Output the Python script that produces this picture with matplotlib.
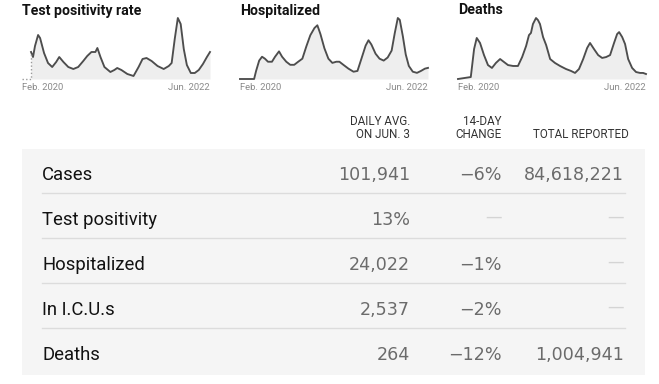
import matplotlib
matplotlib.use('Agg')
import matplotlib.pyplot as plt
import pandas as pd
from matplotlib.patches import Rectangle
from matplotlib.lines import Line2D

# ---------------- data ----------------
spark_titles = ['Test positivity rate', 'Hospitalized', 'Deaths']
range_start_label = 'Feb. 2020'
range_end_label = 'Jun. 2022'

tp_dates = ['2020-03-13', '2020-03-22', '2020-03-31', '2020-04-14', '2020-04-23', '2020-05-11',
            '2020-05-29', '2020-06-17', '2020-07-05', '2020-07-19', '2020-08-07', '2020-08-29',
            '2020-09-21', '2020-10-13', '2020-11-05', '2020-11-23', '2020-12-12', '2020-12-30',
            '2021-01-08', '2021-01-22', '2021-02-09', '2021-03-08', '2021-03-26', '2021-04-08',
            '2021-04-27', '2021-05-24', '2021-06-21', '2021-07-14', '2021-08-01', '2021-08-19',
            '2021-09-11', '2021-10-08', '2021-11-05', '2021-11-28', '2021-12-11', '2021-12-25',
            '2022-01-08', '2022-01-21', '2022-02-04', '2022-02-18', '2022-03-08', '2022-03-26',
            '2022-04-13', '2022-05-02', '2022-05-20', '2022-06-03']
tp_vals = [13.5, 11, 16.5, 22, 20.5, 13, 8, 6, 8.5, 11, 8.5, 6, 5, 6, 9, 11.5, 13.5, 13.5,
           15.5, 11, 6, 3.5, 4.5, 5.5, 4.5, 2.5, 1.5, 6, 10, 10.5, 9, 6.5, 5, 6.5, 8, 20,
           30.5, 27.5, 15, 7, 3, 3, 4.5, 7.5, 11, 13.5]

hosp_dates = ['2020-02-01', '2020-03-17', '2020-04-05', '2020-04-14', '2020-04-28', '2020-05-11',
              '2020-05-24', '2020-06-07', '2020-06-25', '2020-07-09', '2020-07-27', '2020-08-10',
              '2020-08-29', '2020-09-16', '2020-10-04', '2020-10-22', '2020-11-10', '2020-11-28',
              '2020-12-16', '2021-01-04', '2021-01-17', '2021-01-31', '2021-02-18', '2021-03-08',
              '2021-03-26', '2021-04-13', '2021-04-27', '2021-05-15', '2021-06-07', '2021-06-30',
              '2021-07-18', '2021-08-05', '2021-08-24', '2021-09-06', '2021-09-19', '2021-10-08',
              '2021-10-26', '2021-11-14', '2021-12-02', '2021-12-20', '2022-01-03', '2022-01-17',
              '2022-01-26', '2022-02-09', '2022-02-22', '2022-03-08', '2022-03-26', '2022-04-14',
              '2022-05-02', '2022-05-20', '2022-06-03']
hosp_vals = [0, 0, 0, 21, 48, 58, 53, 45, 45, 58, 72, 58, 45, 37, 37, 45, 53, 85, 114, 133,
             140, 117, 80, 53, 42, 45, 45, 37, 27, 19, 21, 53, 87, 101, 90, 66, 53, 48, 56, 74,
             119, 159, 154, 111, 64, 34, 19, 16, 21, 27, 29]

death_dates = ['2020-02-01', '2020-03-30', '2020-04-14', '2020-04-26', '2020-05-11', '2020-05-29',
               '2020-06-16', '2020-07-04', '2020-07-22', '2020-08-10', '2020-08-28', '2020-09-15',
               '2020-10-08', '2020-10-30', '2020-11-18', '2020-12-06', '2020-12-19', '2020-12-28',
               '2021-01-06', '2021-01-20', '2021-01-29', '2021-02-07', '2021-02-21', '2021-03-07',
               '2021-03-25', '2021-04-16', '2021-05-09', '2021-06-05', '2021-06-28', '2021-07-16',
               '2021-08-03', '2021-08-22', '2021-09-09', '2021-09-22', '2021-10-10', '2021-10-29',
               '2021-11-16', '2021-12-04', '2021-12-22', '2022-01-09', '2022-01-23', '2022-02-01',
               '2022-02-15', '2022-02-28', '2022-03-14', '2022-04-01', '2022-04-19', '2022-05-07',
               '2022-05-21', '2022-06-03']
death_vals = [0, 110, 1680, 2300, 2020, 1340, 780, 620, 900, 1120, 950, 780, 730, 730, 1230,
              1850, 2460, 2580, 3080, 3420, 3300, 3080, 2350, 1900, 1120, 900, 730, 560, 450,
              340, 560, 1120, 1740, 2020, 1680, 1340, 1180, 1230, 1340, 2020, 2520, 2630, 2350,
              1960, 1120, 620, 390, 340, 340, 280]

col_headers = ['DAILY AVG.\nON JUN. 3', '14-DAY\nCHANGE', 'TOTAL REPORTED']
row_labels = ['Cases', 'Test positivity', 'Hospitalized', 'In I.C.U.s', 'Deaths']
daily_avg = ['101,941', '13%', '24,022', '2,537', '264']
change_14d = ['\u22126%', None, '\u22121%', '\u22122%', '\u221212%']
total_reported = ['84,618,221', None, None, None, '1,004,941']

# ---------------- layout ----------------
W, H = 659, 384
fig = plt.figure(figsize=(W / 100, H / 100), dpi=100)
fig.patch.set_facecolor('white')


def fx(x):
    return x / W


def fy(y):
    return 1 - y / H


start = pd.Timestamp('2020-02-01')
end = pd.Timestamp('2022-06-03')

sparks = [(22, tp_dates, tp_vals, True),
          (240, hosp_dates, hosp_vals, False),
          (458, death_dates, death_vals, False)]

for title, (x0, dates, vals, dotted) in zip(spark_titles, sparks):
    ax = fig.add_axes([fx(x0), fy(79), 188 / W, 61 / H])
    d = pd.to_datetime(dates)
    ax.fill_between(d, vals, 0, color='#eeeeee', lw=0)
    ax.plot(d, vals, color='#4d4d4d', lw=1.35, solid_joinstyle='round', clip_on=False)
    if dotted:
        ax.plot([start, d[0], d[0]], [0, 0, vals[0]], ls=(0, (1, 1.6)), color='#9a9a9a',
                lw=1, clip_on=False)
    ax.set_xlim(start, end)
    ax.set_ylim(0, max(vals))
    ax.axis('off')
    fig.text(fx(x0), fy(14.5), title, ha='left', va='baseline', fontsize=10.2,
             fontweight='bold', family='Roboto', color='#121212')
    fig.text(fx(x0), fy(88), range_start_label, ha='left', va='center', fontsize=6.8,
             family='Roboto', color='#8a8a8a')
    fig.text(fx(x0 + 188), fy(88), range_end_label, ha='right', va='center', fontsize=6.8,
             family='Roboto', color='#8a8a8a')

# table panel
fig.patches.append(Rectangle((fx(22), fy(375)), 623 / W, 226 / H, transform=fig.transFigure,
                             facecolor='#f5f5f5', edgecolor='none', zorder=0))

hdr_kw = dict(ha='right', fontsize=8.4, family='Roboto', color='#333333')
fig.text(fx(410), fy(125), col_headers[0].split('\n')[0], va='baseline', **hdr_kw)
fig.text(fx(410), fy(138), col_headers[0].split('\n')[1], va='baseline', **hdr_kw)
fig.text(fx(502), fy(125), col_headers[1].split('\n')[0], va='baseline', **hdr_kw)
fig.text(fx(502), fy(138), col_headers[1].split('\n')[1], va='baseline', **hdr_kw)
fig.text(fx(629), fy(138), col_headers[2], va='baseline', **hdr_kw)

row_y = [172, 217, 262, 307, 352]
for i, yc in enumerate(row_y):
    fig.text(fx(42), fy(yc + 8), row_labels[i], ha='left', va='baseline', fontsize=13.3,
             family='Roboto', color='#121212')
    cells = [daily_avg[i], change_14d[i], total_reported[i]]
    rights = [410, 502, 624]
    for val, xr in zip(cells, rights):
        if val is None:
            fig.text(fx(xr), fy(yc), '\u2014', ha='right', va='center', fontsize=12,
                     family='DejaVu Sans', color='#d4d4d4')
        else:
            fig.text(fx(xr), fy(yc + 8), val, ha='right', va='baseline', fontsize=12.6,
                     family='DejaVu Sans', color='#6b6b6b')
    if i < len(row_y) - 1:
        ys = fy(yc + 21)
        fig.add_artist(Line2D([fx(42), fx(625)], [ys, ys], transform=fig.transFigure,
                              color='#dcdcdc', lw=1))

fig.savefig('out.png', dpi=100, facecolor='white')
